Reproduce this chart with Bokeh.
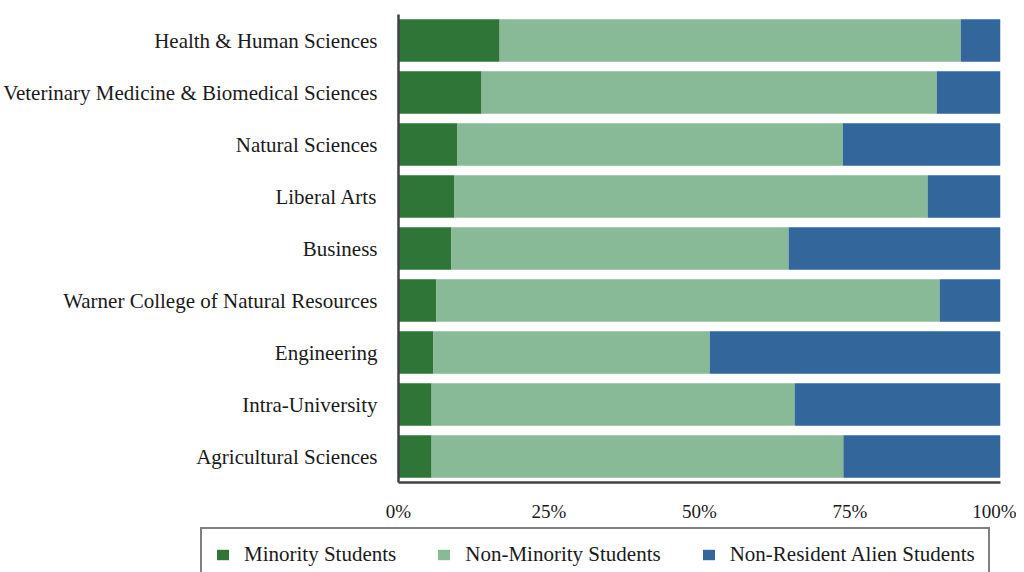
from bokeh.plotting import figure
from bokeh.models import ColumnDataSource, FactorRange, Range1d, FixedTicker, NumeralTickFormatter, Legend
from bokeh.embed import file_html
from bokeh.resources import INLINE

categories = [
    "Health & Human Sciences",
    "Veterinary Medicine & Biomedical Sciences",
    "Natural Sciences",
    "Liberal Arts",
    "Business",
    "Warner College of Natural Resources",
    "Engineering",
    "Intra-University",
    "Agricultural Sciences",
]
minority = [16.8, 13.8, 9.8, 9.3, 8.8, 6.3, 5.8, 5.5, 5.5]
non_minority = [76.6, 75.6, 64.0, 78.6, 56.0, 83.6, 45.9, 60.3, 68.4]
nra = [6.6, 10.6, 26.2, 12.1, 35.2, 10.1, 48.3, 34.2, 26.1]
series_names = ["Minority Students", "Non-Minority Students", "Non-Resident Alien Students"]
colors = ["#2E7537", "#88BA98", "#33669B"]
x_ticks = [0, 25, 50, 75, 100]

FONT = "Liberation Serif"
TEXT = "#1a1a1a"

source = ColumnDataSource(dict(
    cat=categories,
    minority=[v / 100 for v in minority],
    non_minority=[v / 100 for v in non_minority],
    nra=[v / 100 for v in nra],
))

p = figure(
    width=1016, height=524,
    y_range=FactorRange(factors=list(reversed(categories)), range_padding=0),
    x_range=Range1d(0, 1),
    output_backend="svg", toolbar_location=None,
    min_border_left=398, min_border_right=16, min_border_top=14, min_border_bottom=35,
)
p.outline_line_color = None
p.xgrid.grid_line_color = None
p.ygrid.grid_line_color = None

p.hbar_stack(
    ["minority", "non_minority", "nra"], y="cat", height=0.82,
    color=colors, line_color=None, source=source,
)

p.xaxis.ticker = FixedTicker(ticks=[t / 100 for t in x_ticks])
p.xaxis.formatter = NumeralTickFormatter(format="0%")
for ax in (p.xaxis, p.yaxis):
    ax.axis_line_color = "#404040"
    ax.axis_line_width = 2.5
    ax.major_tick_line_color = None
    ax.minor_tick_line_color = None
    ax.major_label_text_font = FONT
    ax.major_label_text_color = TEXT
p.xaxis.major_label_text_font_size = "19px"
p.yaxis.major_label_text_font_size = "21px"
p.xaxis.major_label_standoff = 12
p.yaxis.major_label_standoff = 15

# legend strip below the chart (separate root so its frame spans the full width)
p2 = figure(
    width=1016, height=48,
    x_range=Range1d(0, 1), y_range=Range1d(0, 1),
    x_axis_type=None, y_axis_type=None,
    output_backend="svg", toolbar_location=None,
    min_border_left=0, min_border_right=0, min_border_top=0, min_border_bottom=0,
)
p2.outline_line_color = None
# off-screen stand-in glyphs that only feed the legend
dummies = [p2.hbar(y=[-10], left=[5], right=[6], height=0.5, color=c, line_color=None) for c in colors]

legend = Legend(
    items=[(name, [r]) for name, r in zip(series_names, dummies)],
    orientation="horizontal",
    location=(200, -10),
    border_line_color="black", border_line_width=2,
    label_text_font=FONT, label_text_font_size="21px", label_text_color=TEXT,
    glyph_width=15, glyph_height=13,
    label_standoff=14, spacing=40, padding=13, margin=0,
    background_fill_alpha=1,
)
p2.add_layout(legend, "center")

open("out.html", "w").write(file_html([p, p2], INLINE))
